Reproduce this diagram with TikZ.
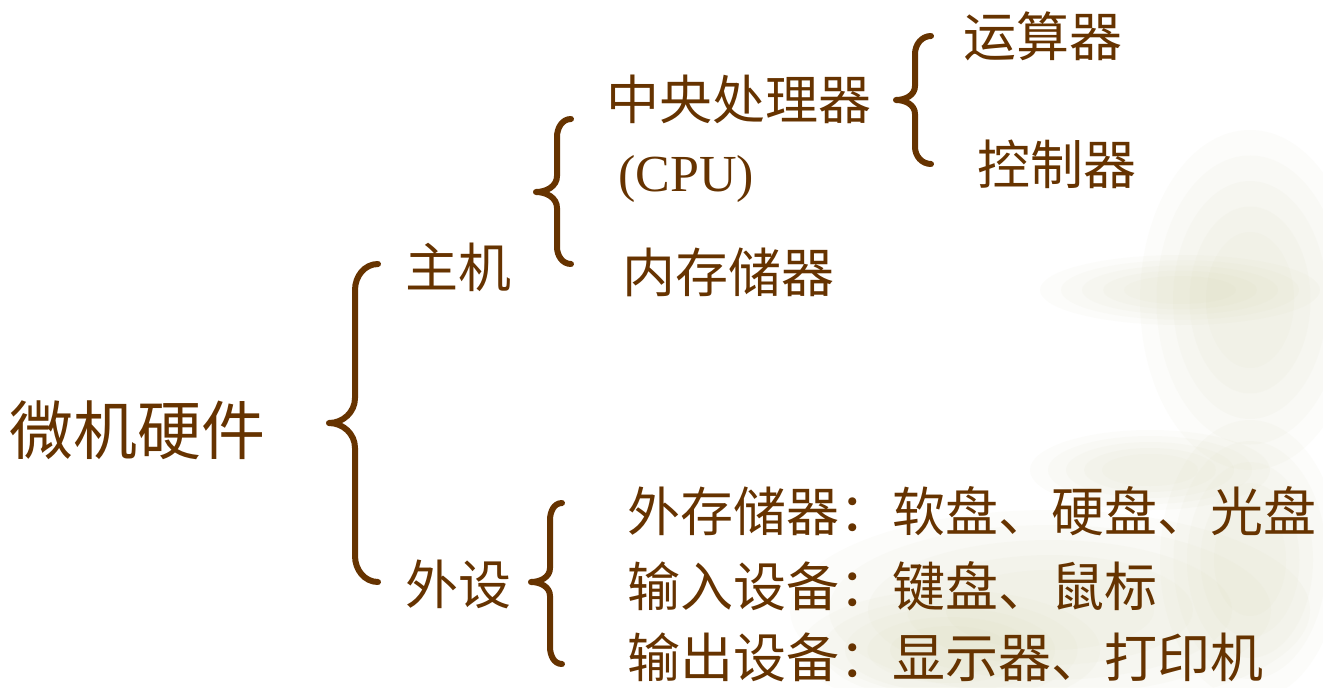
\documentclass[tikz,border=0pt]{standalone}
\usepackage{fontspec}
\newfontfamily\cjk{Noto Sans CJK SC}
\newfontfamily\lat{Liberation Serif}
\definecolor{brn}{RGB}{102,51,0}
\definecolor{wm}{RGB}{205,205,160}
\begin{document}
\begin{tikzpicture}[x=1bp,y=-1bp,
  txt/.style={anchor=base west,inner sep=0pt,text=brn,font=\cjk\fontsize{53bp}{60bp}\selectfont},
  big/.style={anchor=base west,inner sep=0pt,text=brn,font=\cjk\fontsize{64bp}{70bp}\selectfont},
  brace/.style={draw=brn,line width=6bp,line cap=round,line join=round},
  blob/.style={fill=wm,draw=none,fill opacity=0.05}]
\useasboundingbox (0,0) rectangle (1323,687);
\fill[white] (0,0) rectangle (1323,687);
% faint watermark, soft layered blobs
\foreach \cx/\cy/\rx/\ry in {1250/300/110/170, 1180/290/140/35, 1050/610/260/100,
   1250/560/90/140, 1150/470/120/40, 950/650/150/60} {
  \foreach \k in {1.0,0.85,0.7,0.55,0.4} {
    \fill[blob] (\cx,\cy) ellipse ({\rx*\k} and {\ry*\k});
  }
}
% texts
\node[big] (root) at (9,454) {微机硬件};
\node[txt] (host) at (405,287) {主机};
\node[txt] (peri) at (405,604) {外设};
\node[txt] (cpu) at (606,120) {中央处理器};
\node[anchor=base west,inner sep=0pt,text=brn,font=\lat\fontsize{52bp}{60bp}\selectfont] (cpuen) at (618,191) {(CPU)};
\node[txt] (mem) at (622,292) {内存储器};
\node[txt] (alu) at (963,57) {运算器};
\node[txt] (ctl) at (977,184) {控制器};
\node[txt] (ext) at (627,531) {外存储器：软盘、硬盘、光盘};
\node[txt] (inp) at (627,606) {输入设备：键盘、鼠标};
\node[txt] (outp) at (627,677) {输出设备：显示器、打印机};
% braces
\draw[brace] (378,264) to[out=180,in=90] (355,290) -- (355,398)
  to[out=-90,in=0] (329,423) to[out=0,in=90] (355,448) -- (355,556)
  to[out=-90,in=180] (378,582);
\draw[brace] (571,119) to[out=180,in=90] (557,137) -- (557,176)
  to[out=-90,in=0] (536,192) to[out=0,in=90] (557,208) -- (557,247)
  to[out=-90,in=180] (571,264);
\draw[brace] (931,36) to[out=180,in=90] (915,54) -- (915,86)
  to[out=-90,in=0] (896,100) to[out=0,in=90] (915,114) -- (915,147)
  to[out=-90,in=180] (931,164);
\draw[brace] (562,503) to[out=180,in=90] (550,520) -- (550,568)
  to[out=-90,in=0] (531,582) to[out=0,in=90] (550,596) -- (550,647)
  to[out=-90,in=180] (562,664);
\end{tikzpicture}
\end{document}
